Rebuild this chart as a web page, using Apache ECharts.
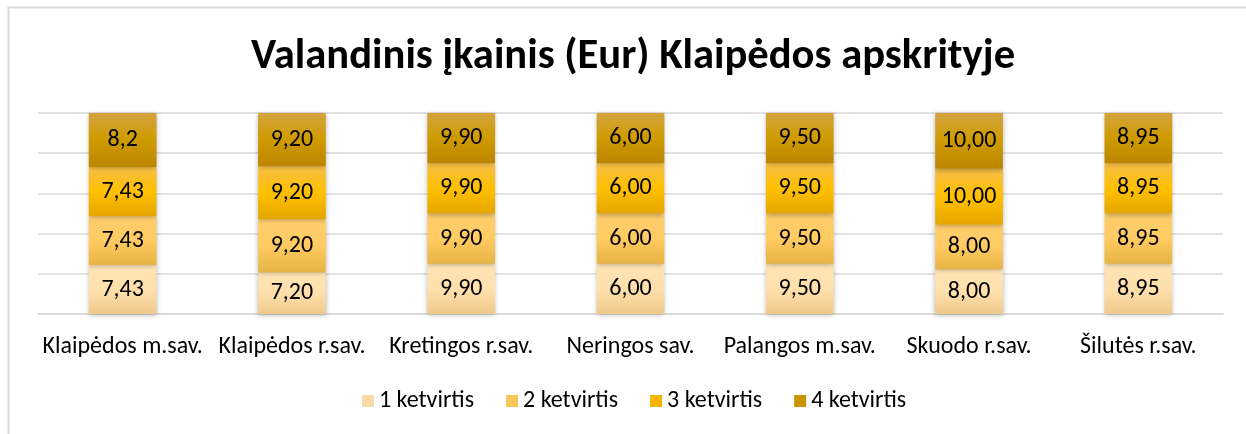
<!DOCTYPE html>
<html>
<head>
<meta charset="utf-8">
<script src="https://cdn.jsdelivr.net/npm/echarts@6/dist/echarts.min.js"></script>
<style>
  html, body { margin: 0; padding: 0; background: #fff; }
  #chart { width: 1246px; height: 434px; }
</style>
</head>
<body>
<div id="chart"></div>
<script>
// values as printed on the chart (comma decimals kept as shown)
const categories = ["Klaipėdos m.sav.", "Klaipėdos r.sav.", "Kretingos r.sav.", "Neringos sav.", "Palangos m.sav.", "Skuodo r.sav.", "Šilutės r.sav."];
const q1 = ["7,43", "7,20", "9,90", "6,00", "9,50", "8,00", "8,95"];
const q2 = ["7,43", "9,20", "9,90", "6,00", "9,50", "8,00", "8,95"];
const q3 = ["7,43", "9,20", "9,90", "6,00", "9,50", "10,00", "8,95"];
const q4 = ["8,2", "9,20", "9,90", "6,00", "9,50", "10,00", "8,95"];
const seriesNames = ["1 ketvirtis", "2 ketvirtis", "3 ketvirtis", "4 ketvirtis"];
const yTicks = [0, 20, 40, 60, 80, 100];

const FONT = "Carlito, Lato, 'Open Sans', sans-serif";
const num = s => parseFloat(s.replace(",", "."));
const all = [q1, q2, q3, q4];
const totals = categories.map((_, i) => all.reduce((s, arr) => s + num(arr[i]), 0));

const grad = stops => new echarts.graphic.LinearGradient(0, 0, 0, 1,
  stops.map((c, i) => ({ offset: i / (stops.length - 1), color: c })));

const fills = [
  grad(["#FFE4B6", "#FFE0AC", "#EFC98C"]),
  grad(["#FFCD6E", "#FFCB62", "#E6B344"]),
  grad(["#F6BE48", "#FFC000", "#E5A600"]),
  grad(["#D3A43F", "#CF9B00", "#BC8500"])
];
const legendColors = ["#F9DBA8", "#FCC65A", "#F5B500", "#C99400"];

const series = all.map((arr, k) => ({
  name: seriesNames[k],
  type: "bar",
  stack: "total",
  barWidth: "40%",
  data: arr.map((s, i) => ({ value: num(s) / totals[i] * 100, text: s })),
  itemStyle: {
    color: fills[k],
    shadowBlur: 5,
    shadowColor: "rgba(0,0,0,0.3)",
    shadowOffsetY: 1
  },
  label: {
    show: true,
    position: "inside",
    color: "#000",
    fontFamily: FONT,
    fontSize: 24,
    formatter: p => p.data.text
  },
  emphasis: { disabled: true }
}));

const chart = echarts.init(document.getElementById("chart"), null, { renderer: "canvas" });
chart.setOption({
  animation: false,
  backgroundColor: "#fff",
  title: {
    text: "Valandinis įkainis (Eur) Klaipėdos apskrityje",
    left: 246,
    top: 31,
    textStyle: { fontFamily: FONT, fontWeight: "bold", fontSize: 42.6, color: "#000" }
  },
  legend: {
    bottom: 16,
    left: 357,
    itemWidth: 12,
    itemHeight: 12,
    itemGap: 32,
    icon: "rect",
    textStyle: { fontFamily: FONT, fontSize: 24, color: "#000" },
    data: seriesNames.map((n, k) => ({ name: n, itemStyle: { color: legendColors[k] } }))
  },
  grid: { left: 38, right: 23, top: 113, bottom: 120 },
  xAxis: {
    type: "category",
    data: categories,
    axisLine: { lineStyle: { color: "#d9d9d9", width: 1.5 } },
    axisTick: { show: false },
    axisLabel: { fontFamily: FONT, fontSize: 24, color: "#000", margin: 21, interval: 0 }
  },
  yAxis: {
    type: "value",
    min: yTicks[0],
    max: yTicks[yTicks.length - 1],
    interval: yTicks[1] - yTicks[0],
    axisLabel: { show: false },
    axisLine: { show: false },
    axisTick: { show: false },
    splitLine: { lineStyle: { color: "#d9d9d9", width: 1.5 } }
  },
  graphic: [{
    type: "rect",
    shape: { x: 8.5, y: 7.5, width: 1300, height: 500 },
    style: { fill: null, stroke: "#d9d9d9", lineWidth: 2 },
    silent: true
  }],
  series: series
});
</script>
</body>
</html>
